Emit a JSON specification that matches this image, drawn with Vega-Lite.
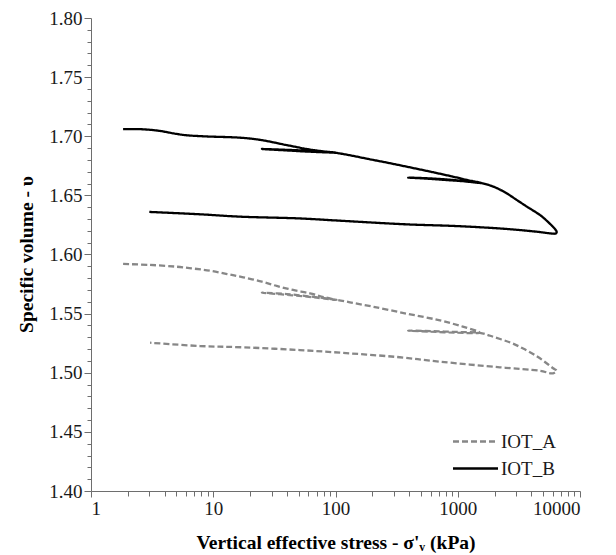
{
  "$schema": "https://vega.github.io/schema/vega-lite/v6.json",
  "autosize": "none",
  "padding": {"left": 91, "top": 18, "right": 36, "bottom": 64},
  "width": 489,
  "height": 473,
  "background": "white",
  "config": {
    "view": {"stroke": null},
    "axis": {"grid": false, "domainColor": "#6e6e6e", "tickColor": "#6e6e6e", "domainWidth": 1, "tickWidth": 1},
    "style": {
      "guide-label": {"font": "Times New Roman"},
      "guide-title": {"font": "Times New Roman"}
    }
  },
  "data": {
    "values": [
      {"s": "IOT_A", "i": 1, "x": 1.83, "v": 1.592},
      {"s": "IOT_A", "i": 2, "x": 3, "v": 1.5912},
      {"s": "IOT_A", "i": 3, "x": 5, "v": 1.5897},
      {"s": "IOT_A", "i": 4, "x": 7, "v": 1.588},
      {"s": "IOT_A", "i": 5, "x": 9.4, "v": 1.5863},
      {"s": "IOT_A", "i": 6, "x": 13, "v": 1.5835},
      {"s": "IOT_A", "i": 7, "x": 17.6, "v": 1.5807},
      {"s": "IOT_A", "i": 8, "x": 25, "v": 1.577},
      {"s": "IOT_A", "i": 9, "x": 33, "v": 1.5734},
      {"s": "IOT_A", "i": 10, "x": 45, "v": 1.57},
      {"s": "IOT_A", "i": 11, "x": 61.8, "v": 1.5672},
      {"s": "IOT_A", "i": 12, "x": 80, "v": 1.564},
      {"s": "IOT_A", "i": 13, "x": 102, "v": 1.5615},
      {"s": "IOT_A", "i": 14, "x": 70, "v": 1.5635},
      {"s": "IOT_A", "i": 15, "x": 45, "v": 1.5655},
      {"s": "IOT_A", "i": 16, "x": 25, "v": 1.5677},
      {"s": "IOT_A", "i": 17, "x": 40, "v": 1.5665},
      {"s": "IOT_A", "i": 18, "x": 61.8, "v": 1.5645},
      {"s": "IOT_A", "i": 19, "x": 85, "v": 1.5628},
      {"s": "IOT_A", "i": 20, "x": 102, "v": 1.5617},
      {"s": "IOT_A", "i": 21, "x": 131, "v": 1.5596},
      {"s": "IOT_A", "i": 22, "x": 200, "v": 1.556},
      {"s": "IOT_A", "i": 23, "x": 381, "v": 1.55},
      {"s": "IOT_A", "i": 24, "x": 700, "v": 1.5445},
      {"s": "IOT_A", "i": 25, "x": 1100, "v": 1.539},
      {"s": "IOT_A", "i": 26, "x": 1517, "v": 1.534},
      {"s": "IOT_A", "i": 27, "x": 977, "v": 1.5339},
      {"s": "IOT_A", "i": 28, "x": 600, "v": 1.5348},
      {"s": "IOT_A", "i": 29, "x": 393, "v": 1.5356},
      {"s": "IOT_A", "i": 30, "x": 600, "v": 1.5352},
      {"s": "IOT_A", "i": 31, "x": 977, "v": 1.5345},
      {"s": "IOT_A", "i": 32, "x": 1517, "v": 1.5338},
      {"s": "IOT_A", "i": 33, "x": 2000, "v": 1.53},
      {"s": "IOT_A", "i": 34, "x": 2700, "v": 1.5255},
      {"s": "IOT_A", "i": 35, "x": 3427, "v": 1.5205},
      {"s": "IOT_A", "i": 36, "x": 4500, "v": 1.5135},
      {"s": "IOT_A", "i": 37, "x": 5500, "v": 1.507},
      {"s": "IOT_A", "i": 38, "x": 6026, "v": 1.5038},
      {"s": "IOT_A", "i": 39, "x": 6430, "v": 1.5017},
      {"s": "IOT_A", "i": 40, "x": 6026, "v": 1.4995},
      {"s": "IOT_A", "i": 41, "x": 4690, "v": 1.5017},
      {"s": "IOT_A", "i": 42, "x": 2208, "v": 1.5046},
      {"s": "IOT_A", "i": 43, "x": 714, "v": 1.5094},
      {"s": "IOT_A", "i": 44, "x": 336, "v": 1.5131},
      {"s": "IOT_A", "i": 45, "x": 131, "v": 1.5164},
      {"s": "IOT_A", "i": 46, "x": 51, "v": 1.5192},
      {"s": "IOT_A", "i": 47, "x": 17.6, "v": 1.5215},
      {"s": "IOT_A", "i": 48, "x": 7.8, "v": 1.5226},
      {"s": "IOT_A", "i": 49, "x": 3.04, "v": 1.5254},
      {"s": "IOT_B", "i": 1, "x": 1.83, "v": 1.706},
      {"s": "IOT_B", "i": 2, "x": 2.5, "v": 1.706},
      {"s": "IOT_B", "i": 3, "x": 3.5, "v": 1.7048},
      {"s": "IOT_B", "i": 4, "x": 5, "v": 1.702},
      {"s": "IOT_B", "i": 5, "x": 6.1, "v": 1.7008},
      {"s": "IOT_B", "i": 6, "x": 9, "v": 1.6998},
      {"s": "IOT_B", "i": 7, "x": 16.5, "v": 1.6988},
      {"s": "IOT_B", "i": 8, "x": 24, "v": 1.697},
      {"s": "IOT_B", "i": 9, "x": 40, "v": 1.6925},
      {"s": "IOT_B", "i": 10, "x": 60, "v": 1.689},
      {"s": "IOT_B", "i": 11, "x": 80, "v": 1.6872},
      {"s": "IOT_B", "i": 12, "x": 100, "v": 1.6862},
      {"s": "IOT_B", "i": 13, "x": 60, "v": 1.687},
      {"s": "IOT_B", "i": 14, "x": 40, "v": 1.688},
      {"s": "IOT_B", "i": 15, "x": 25, "v": 1.6892},
      {"s": "IOT_B", "i": 16, "x": 40, "v": 1.6885},
      {"s": "IOT_B", "i": 17, "x": 58, "v": 1.6878},
      {"s": "IOT_B", "i": 18, "x": 80, "v": 1.6868},
      {"s": "IOT_B", "i": 19, "x": 100, "v": 1.686},
      {"s": "IOT_B", "i": 20, "x": 130, "v": 1.684},
      {"s": "IOT_B", "i": 21, "x": 181, "v": 1.681},
      {"s": "IOT_B", "i": 22, "x": 270, "v": 1.6775},
      {"s": "IOT_B", "i": 23, "x": 381, "v": 1.6743},
      {"s": "IOT_B", "i": 24, "x": 600, "v": 1.67},
      {"s": "IOT_B", "i": 25, "x": 900, "v": 1.666},
      {"s": "IOT_B", "i": 26, "x": 1200, "v": 1.663},
      {"s": "IOT_B", "i": 27, "x": 1550, "v": 1.6605},
      {"s": "IOT_B", "i": 28, "x": 1100, "v": 1.662},
      {"s": "IOT_B", "i": 29, "x": 800, "v": 1.663},
      {"s": "IOT_B", "i": 30, "x": 550, "v": 1.6642},
      {"s": "IOT_B", "i": 31, "x": 393, "v": 1.665},
      {"s": "IOT_B", "i": 32, "x": 550, "v": 1.6645},
      {"s": "IOT_B", "i": 33, "x": 800, "v": 1.6635},
      {"s": "IOT_B", "i": 34, "x": 1100, "v": 1.6622},
      {"s": "IOT_B", "i": 35, "x": 1550, "v": 1.6605},
      {"s": "IOT_B", "i": 36, "x": 2000, "v": 1.657},
      {"s": "IOT_B", "i": 37, "x": 2506, "v": 1.6518},
      {"s": "IOT_B", "i": 38, "x": 3000, "v": 1.6465},
      {"s": "IOT_B", "i": 39, "x": 3673, "v": 1.6405},
      {"s": "IOT_B", "i": 40, "x": 4690, "v": 1.6335},
      {"s": "IOT_B", "i": 41, "x": 5354, "v": 1.6285},
      {"s": "IOT_B", "i": 42, "x": 6000, "v": 1.6235},
      {"s": "IOT_B", "i": 43, "x": 6300, "v": 1.621},
      {"s": "IOT_B", "i": 44, "x": 6450, "v": 1.619},
      {"s": "IOT_B", "i": 45, "x": 6350, "v": 1.6178},
      {"s": "IOT_B", "i": 46, "x": 5640, "v": 1.6179},
      {"s": "IOT_B", "i": 47, "x": 4690, "v": 1.619},
      {"s": "IOT_B", "i": 48, "x": 2506, "v": 1.6216},
      {"s": "IOT_B", "i": 49, "x": 1000, "v": 1.624},
      {"s": "IOT_B", "i": 50, "x": 381, "v": 1.6255},
      {"s": "IOT_B", "i": 51, "x": 100, "v": 1.6288},
      {"s": "IOT_B", "i": 52, "x": 51, "v": 1.6305},
      {"s": "IOT_B", "i": 53, "x": 16.5, "v": 1.632},
      {"s": "IOT_B", "i": 54, "x": 7.8, "v": 1.634},
      {"s": "IOT_B", "i": 55, "x": 3, "v": 1.636}
    ]
  },
  "mark": {"type": "line", "strokeWidth": 2.3, "strokeCap": "butt", "strokeJoin": "round", "interpolate": "catmull-rom"},
  "encoding": {
    "x": {
      "field": "x", "type": "quantitative",
      "scale": {"type": "log", "domain": [1, 10000], "nice": false},
      "axis": {
        "title": "Vertical effective stress - σ'ᵥ (kPa)",
        "values": [1, 2, 3, 4, 5, 6, 7, 8, 9, 10, 20, 30, 40, 50, 60, 70, 80, 90, 100, 200, 300, 400, 500, 600, 700, 800, 900, 1000, 2000, 3000, 4000, 5000, 6000, 7000, 8000, 9000, 10000],
        "labelExpr": "indexof(['1','10','100','1000','10000'], format(datum.value, 'd')) >= 0 ? format(datum.value, 'd') : ''",
        "labelFont": "Times New Roman",
        "labelFontSize": 19,
        "labelColor": "#1a1a1a",
        "titleFont": "Times New Roman",
        "titleFontSize": 19.5,
        "titleFontWeight": "bold",
        "titleColor": "#000000",
        "tickSize": {"condition": {"test": "indexof([1,10,100,1000,10000], datum.value) >= 0", "value": 6}, "value": 5},
        "titleY": 57,
        "titleBaseline": "alphabetic"
      }
    },
    "y": {
      "field": "v", "type": "quantitative",
      "scale": {"domain": [1.4, 1.8], "nice": false, "zero": false},
      "axis": {
        "title": "Specific volume - υ",
        "values": [1.4, 1.41, 1.42, 1.43, 1.44, 1.45, 1.46, 1.47, 1.48, 1.49, 1.5, 1.51, 1.52, 1.53, 1.54, 1.55, 1.56, 1.57, 1.58, 1.59, 1.6, 1.61, 1.62, 1.63, 1.64, 1.65, 1.66, 1.67, 1.68, 1.69, 1.7, 1.71, 1.72, 1.73, 1.74, 1.75, 1.76, 1.77, 1.78, 1.79, 1.8],
        "labelExpr": "abs(datum.value * 20 - round(datum.value * 20)) < 0.001 ? format(datum.value, '.2f') : ''",
        "labelFont": "Times New Roman",
        "labelFontSize": 19,
        "labelColor": "#1a1a1a",
        "titleFont": "Times New Roman",
        "titleFontSize": 19.5,
        "titleFontWeight": "bold",
        "titleColor": "#000000",
        "tickSize": {"condition": {"test": "abs(datum.value * 20 - round(datum.value * 20)) < 0.001", "value": 7}, "value": 4},
        "titleX": -55,
        "titleY": 236,
        "titleAngle": -90,
        "titleAlign": "center",
        "titleBaseline": "bottom"
      }
    },
    "color": {
      "field": "s", "type": "nominal",
      "scale": {"domain": ["IOT_A", "IOT_B"], "range": ["#878787", "#000000"]},
      "legend": {
        "title": null,
        "orient": "none",
        "legendX": 368,
        "legendY": 407,
        "padding": 0,
        "symbolType": "M-1.5,0H1.5",
        "symbolSize": 900,
        "symbolStrokeWidth": 2.3,
        "labelOffset": 9,
        "labelFont": "Times New Roman",
        "labelFontSize": 19,
        "labelColor": "#1a1a1a",
        "rowPadding": 0
      }
    },
    "strokeDash": {
      "field": "s", "type": "nominal",
      "scale": {"domain": ["IOT_A", "IOT_B"], "range": [[6, 3], [1, 0]]},
      "legend": {
        "title": null,
        "orient": "none",
        "legendX": 368,
        "legendY": 407,
        "padding": 0,
        "symbolType": "M-1.5,0H1.5",
        "symbolSize": 900,
        "symbolStrokeWidth": 2.3,
        "labelOffset": 9,
        "labelFont": "Times New Roman",
        "labelFontSize": 19,
        "labelColor": "#1a1a1a",
        "rowPadding": 0
      }
    },
    "order": {"field": "i", "type": "quantitative"}
  }
}
